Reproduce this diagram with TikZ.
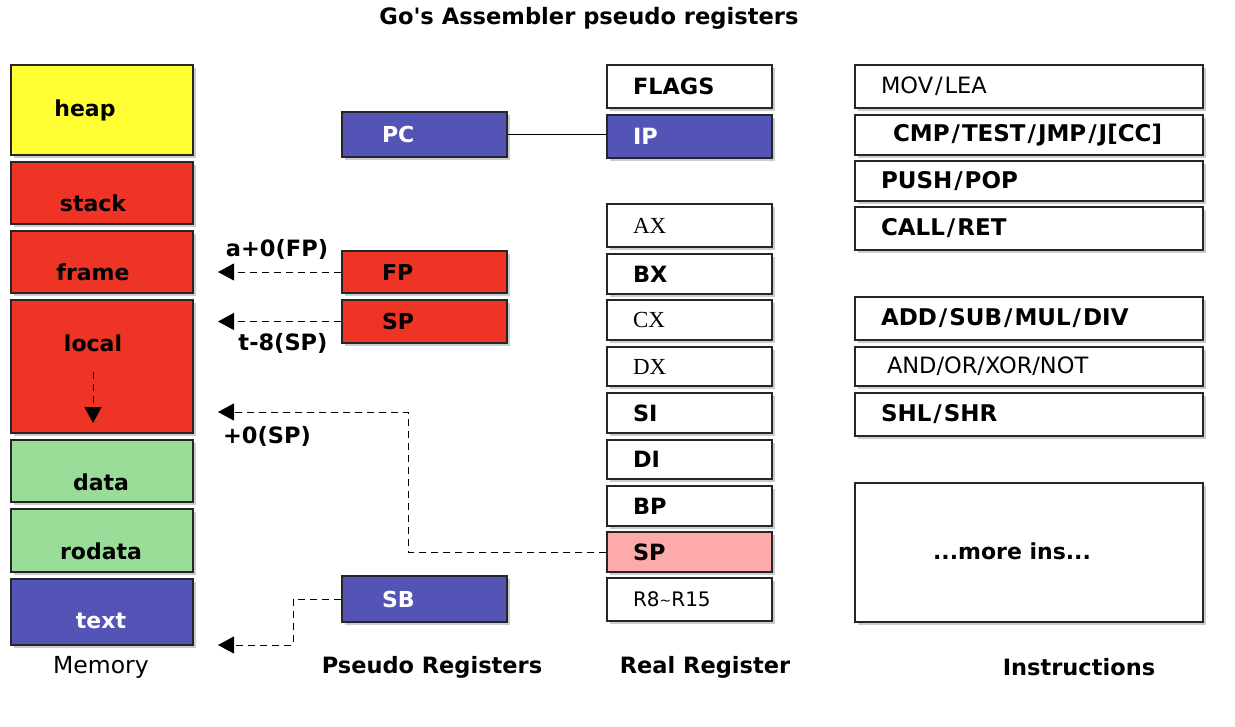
\documentclass[tikz,border=0pt]{standalone}
\usepackage{fontspec}
\setmainfont{DejaVu Sans}
\newfontfamily\serifreg{Liberation Serif}
\newfontfamily\plainfont{DejaVu Sans}[Ligatures=ResetAll]
\usetikzlibrary{arrows.meta,shadows}
\definecolor{cyellow}{RGB}{255,255,51}
\definecolor{cred}{RGB}{238,52,36}
\definecolor{cgreen}{RGB}{153,221,153}
\definecolor{cblue}{RGB}{84,84,182}
\definecolor{cpink}{RGB}{255,170,170}
\newcommand{\myslash}{\kern2pt/\kern2pt}
\tikzset{
  bx/.style={draw=black!85, line width=1.1pt, rectangle, inner ysep=0pt,
    drop shadow={shadow xshift=3pt, shadow yshift=-3pt, opacity=0.2, fill=black}},
  membox/.style={bx, minimum width=182pt},
  memtext/.style={font=\fontsize{22}{26}\selectfont\bfseries},
  pbox/.style={bx, minimum width=165pt, inner xsep=40pt, text width=85pt, align=left,
    font=\fontsize{22}{26}\selectfont\bfseries},
  rbox/.style={bx, minimum width=165pt, inner xsep=26pt, text width=113pt, align=left,
    font=\fontsize{22.4}{26}\selectfont\bfseries},
  ibox/.style={bx, minimum width=348pt, inner xsep=26pt, text width=296pt, align=left,
    font=\fontsize{23}{27}\selectfont\bfseries},
  lbl/.style={font=\fontsize{22.5}{26}\selectfont\bfseries},
  dl/.style={dash pattern=on 7pt off 5pt, line width=1pt},
  dla/.style={dl, -{Triangle[length=16pt,width=17pt]}},
  regfont/.style={font=\fontsize{22.5}{26}\selectfont},
  serfont/.style={font=\fontsize{23}{27}\selectfont\serifreg},
}
\begin{document}
\begin{tikzpicture}[x=1pt,y=-1pt]
\fill[white] (0,0) rectangle (1235,726);
\useasboundingbox (0,0) rectangle (1235,726);

% title
\node[font=\fontsize{22.6}{26}\selectfont\plainfont\bfseries] (title) at (589,18) {Go's Assembler pseudo registers};

% memory column
\node[membox, fill=cyellow, minimum height=90pt] (heap) at (102,110) {};
\node[membox, fill=cred, minimum height=62pt] (stack) at (102,193) {};
\node[membox, fill=cred, minimum height=62pt] (frame) at (102,262) {};
\node[membox, fill=cred, minimum height=133pt] (local) at (102,366.5) {};
\node[membox, fill=cgreen, minimum height=62pt] (data) at (102,471) {};
\node[membox, fill=cgreen, minimum height=63pt] (rodata) at (102,540.5) {};
\node[membox, fill=cblue, minimum height=66pt] (text) at (102,612) {};

\node[memtext] (heapT) at (85,110) {heap};
\node[memtext] (stackT) at (93,203) {stack};
\node[memtext] (frameT) at (93,272) {frame};
\node[memtext] (localT) at (93,343) {local};
\node[memtext] (dataT) at (101,482) {data};
\node[memtext] (rodataT) at (101,551) {rodata};
\node[memtext, text=white] (textT) at (101,621) {text};

\coordinate (locA) at (93,372);
\coordinate (locB) at (93,423);
\draw[dla] (locA) -- (locB);

% pseudo registers
\node[pbox, fill=cblue, text=white, minimum height=45pt] (PC) at (424.5,134.5) {PC};
\node[pbox, fill=cred, minimum height=42pt] (FP) at (424.5,272) {FP};
\node[pbox, fill=cred, minimum height=43pt] (pSP) at (424.5,321.5) {SP};
\node[pbox, fill=cblue, text=white, minimum height=46pt] (SB) at (424.5,599) {SB};

% real registers
\node[rbox, fill=white, minimum height=43pt] (FLAGS) at (689.5,86.5) {FLAGS};
\node[rbox, fill=cblue, text=white, minimum height=43pt] (IP) at (689.5,136.5) {IP};
\node[rbox, fill=white, minimum height=43pt, serfont] (AX) at (689.5,225.5) {AX};
\node[rbox, fill=white, minimum height=40pt] (BX) at (689.5,274) {BX};
\node[rbox, fill=white, minimum height=40pt, serfont] (CX) at (689.5,320) {CX};
\node[rbox, fill=white, minimum height=39pt, serfont] (DX) at (689.5,366.5) {DX};
\node[rbox, fill=white, minimum height=40pt] (SI) at (689.5,413) {SI};
\node[rbox, fill=white, minimum height=39pt] (DI) at (689.5,459.5) {DI};
\node[rbox, fill=white, minimum height=40pt] (BP) at (689.5,506) {BP};
\node[rbox, fill=cpink, minimum height=40pt] (rSP) at (689.5,552) {SP};
\node[rbox, fill=white, minimum height=43pt, font=\fontsize{20}{24}\selectfont] (R8) at (689.5,599.5) {R8\raisebox{1pt}{\fontsize{14}{14}\selectfont\char"007E}R15};

% instructions
\node[ibox, fill=white, minimum height=43pt, regfont] (MOV) at (1029,86.5) {MOV\myslash LEA};
\node[ibox, fill=white, minimum height=40pt] (CMP) at (1029,135) {\hspace*{12pt}CMP\myslash TEST\myslash JMP\myslash J[CC]};
\node[ibox, fill=white, minimum height=40pt] (PUSH) at (1029,181) {PUSH\myslash POP};
\node[ibox, fill=white, minimum height=43pt] (CALL) at (1029,228.5) {CALL\myslash RET};
\node[ibox, fill=white, minimum height=43pt] (ADD) at (1029,318.5) {ADD\myslash SUB\myslash MUL\myslash DIV};
\node[ibox, fill=white, minimum height=39pt, regfont] (AND) at (1029,366.5) {\hspace*{6pt}AND/OR/XOR/NOT};
\node[ibox, fill=white, minimum height=43pt] (SHL) at (1029,414.5) {SHL\myslash SHR};
\node[bx, fill=white, minimum width=348pt, minimum height=139pt] (MORE) at (1029,552.5) {};
\node[lbl, font=\fontsize{22}{26}\selectfont\bfseries] (MOREt) at (1012,551) {...more ins...};

% column captions
\node[font=\fontsize{23.5}{27}\selectfont] (capMem) at (101,667) {Memory};
\node[lbl] (capPseudo) at (432,667) {Pseudo Registers};
\node[lbl] (capReal) at (705,667) {Real Register};
\node[lbl] (capIns) at (1079,667) {Instructions};

% connectors
\draw[line width=1pt] (PC.east) -- (IP.west |- PC.east);

\coordinate (fpArr) at (218,272);
\draw[dla] (FP.west) -- (fpArr);
\node[lbl] (fpL) at (277,249) {a+0(FP)};

\coordinate (spArr) at (218,321.5);
\draw[dla] (pSP.west) -- (spArr);
\node[lbl] (spL) at (283,343) {t-8(SP)};

\coordinate (rspBend) at (408,412);
\coordinate (rspArr) at (218,412);
\draw[dla] (rSP.west) -- (rSP.west -| rspBend) -- (rspBend) -- (rspArr);
\node[lbl] (rspL) at (267,436) {+0(SP)};

\coordinate (sbBend) at (293,645);
\coordinate (sbArr) at (218,645);
\draw[dla] (SB.west) -- (SB.west -| sbBend) -- (sbBend) -- (sbArr);
\end{tikzpicture}
\end{document}
